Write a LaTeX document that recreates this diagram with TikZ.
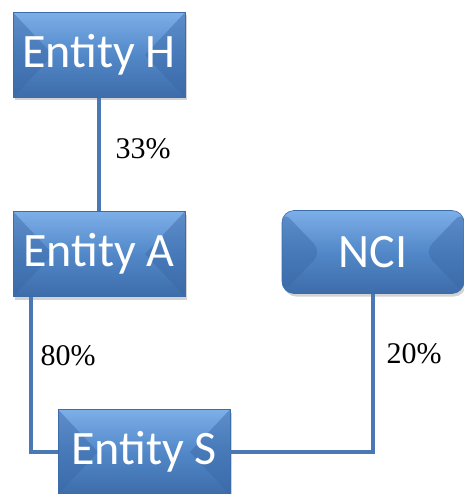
\documentclass[tikz,border=0pt]{standalone}
\usepackage{fontspec}
\setmainfont{Liberation Serif}
\newfontfamily\boxfont{Carlito}
\usetikzlibrary{shadows}
\definecolor{boxtop}{HTML}{7DAEE8}
\definecolor{boxmid}{HTML}{5288C8}
\definecolor{boxbot}{HTML}{3D6CAA}
\definecolor{boxside}{HTML}{3A68A6}
\definecolor{lineblue}{HTML}{4A78B4}
\tikzset{
  entity/.style={minimum width=172pt, minimum height=85pt, inner sep=0pt,
    top color=boxtop, bottom color=boxbot, middle color=boxmid,
    draw=boxbot, line width=0.6pt, text=white,
    font=\boxfont\fontsize{48}{50}\selectfont,
    drop shadow={shadow xshift=2pt, shadow yshift=-3pt, opacity=0.35},
    path picture={
      \fill[boxside, opacity=0.45] (path picture bounding box.north west) -- ([xshift=40pt]path picture bounding box.west) -- (path picture bounding box.south west) -- cycle;
      \fill[boxside, opacity=0.45] (path picture bounding box.north east) -- ([xshift=-40pt]path picture bounding box.east) -- (path picture bounding box.south east) -- cycle;
    }},
  share/.style={font=\fontsize{30}{32}\selectfont, anchor=west},
  link/.style={draw=lineblue, line width=4pt}
}
\begin{document}
\begin{tikzpicture}[x=1pt, y=-1pt]
  \useasboundingbox (0,0) rectangle (463,494);
  \node[entity] (H) at (99,55) {Entity H};
  \node[entity] (A) at (99,254) {Entity A};
  \node[entity, rounded corners=12pt, minimum width=182pt, minimum height=83pt] (NCI) at (373,252) {NCI};
  \node[entity] (S) at (144,452) {Entity S};
  % ownership chain
  \draw[link] (H) -- (A);
  \draw[link] ([xshift=-68pt]A.south) |- (S.west);
  \draw[link] (NCI.south) |- (S.east);
  % percentages
  \node[share] (hA) at (112,149) {33\%};
  \node[share] (aS) at (37,356) {80\%};
  \node[share] (nS) at (383,354) {20\%};
\end{tikzpicture}
\end{document}
